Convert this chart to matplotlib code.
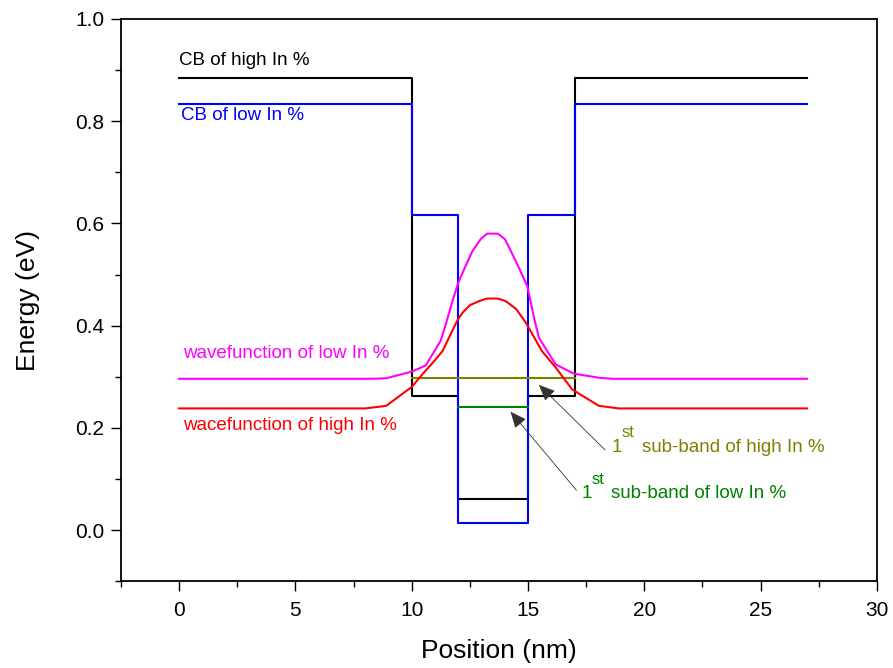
import matplotlib
matplotlib.use("Agg")
import matplotlib.pyplot as plt
from matplotlib.ticker import MultipleLocator, FormatStrFormatter
from matplotlib.transforms import offset_copy

plt.rcParams["font.family"] = ["Liberation Sans", "DejaVu Sans"]

# conduction band profiles (step potentials)
cb_high_x = [0, 10, 10, 12, 12, 15, 15, 17, 17, 27]
cb_high_y = [0.884, 0.884, 0.262, 0.262, 0.060, 0.060, 0.262, 0.262, 0.884, 0.884]
cb_low_x = [0, 10, 10, 12, 12, 15, 15, 17, 17, 27]
cb_low_y = [0.834, 0.834, 0.616, 0.616, 0.013, 0.013, 0.616, 0.616, 0.834, 0.834]

# wavefunctions (offset by sub-band energy)
wf_low_x = [0, 8.3, 8.9, 10.0, 10.6, 11.24, 11.46, 11.75, 12.0, 12.25, 12.6, 12.96,
            13.24, 13.7, 14.01, 14.54, 14.97, 15.26, 15.47, 16.19, 16.97, 18.05, 18.6, 27]
wf_low_y = [0.296, 0.296, 0.297, 0.310, 0.322, 0.370, 0.402, 0.448, 0.484, 0.510, 0.545, 0.569,
            0.580, 0.580, 0.569, 0.520, 0.477, 0.415, 0.376, 0.324, 0.306, 0.298, 0.296, 0.296]
wf_high_x = [0, 8.0, 8.9, 10.0, 10.46, 11.03, 11.32, 11.67, 11.98, 12.18, 12.5, 12.9,
             13.24, 13.7, 14.04, 14.5, 14.9, 15.6, 16.19, 16.9, 18.05, 18.9, 27]
wf_high_y = [0.238, 0.238, 0.243, 0.280, 0.305, 0.334, 0.350, 0.383, 0.412, 0.425, 0.440, 0.448,
             0.453, 0.453, 0.448, 0.432, 0.406, 0.350, 0.318, 0.275, 0.243, 0.238, 0.238]

# first sub-band levels
sb_high_x = [10, 17]
sb_high_y = [0.297, 0.297]
sb_low_x = [12, 15]
sb_low_y = [0.240, 0.240]

fig = plt.figure(figsize=(8.93, 6.68), dpi=100)
ax = fig.add_axes([0.1355, 0.130, 0.8465, 0.8416])

ax.plot(cb_high_x, cb_high_y, color="black", lw=1.5)
ax.plot(cb_low_x, cb_low_y, color="#0000ff", lw=1.5)
ax.plot(sb_high_x, sb_high_y, color="#808000", lw=1.5)
ax.plot(sb_low_x, sb_low_y, color="#008000", lw=1.5)
ax.plot(wf_low_x, wf_low_y, color="#ff00ff", lw=1.5)
ax.plot(wf_high_x, wf_high_y, color="#ff0000", lw=1.5)

fs = 13.5
ax.text(0.0, 0.910, "CB of high In %", color="black", fontsize=fs, va="baseline")
ax.text(0.07, 0.802, "CB of low In %", color="#0000ff", fontsize=fs, va="baseline")
ax.text(0.16, 0.336, "wavefunction of low In %", color="#ff00ff", fontsize=fs, va="baseline")
ax.text(0.16, 0.196, "wacefunction of high In %", color="#ff0000", fontsize=fs, va="baseline")


def ordinal_label(x, y, rest, color, raise_pt):
    ax.text(x, y, "1", color=color, fontsize=fs, va="baseline")
    tr = offset_copy(ax.transData, fig=fig, x=7.0, y=raise_pt, units="points")
    ax.text(x, y, "st", color=color, fontsize=12, va="baseline", transform=tr)
    tr = offset_copy(ax.transData, fig=fig, x=21.5, y=0, units="points")
    ax.text(x, y, rest, color=color, fontsize=fs, va="baseline", transform=tr)


ordinal_label(18.6, 0.152, "sub-band of high In %", "#808000", 11)
ordinal_label(17.3, 0.062, "sub-band of low In %", "#008000", 10)

arrow = dict(arrowstyle="-|>,head_length=0.5,head_width=0.22", mutation_scale=20,
             color="#333333", lw=0.6, shrinkA=0, shrinkB=0)
ax.annotate("", xy=(15.47, 0.284), xytext=(18.31, 0.157), arrowprops=arrow)
ax.annotate("", xy=(14.25, 0.2315), xytext=(17.08, 0.078), arrowprops=arrow)

ax.set_xlim(-2.5, 30)
ax.set_ylim(-0.1, 1.0)
ax.xaxis.set_major_locator(MultipleLocator(5))
ax.xaxis.set_minor_locator(MultipleLocator(2.5))
ax.yaxis.set_major_locator(MultipleLocator(0.2))
ax.yaxis.set_minor_locator(MultipleLocator(0.1))
ax.yaxis.set_major_formatter(FormatStrFormatter("%.1f"))
ax.tick_params(which="both", direction="out", top=False, right=False, width=1.0,
               labelsize=15)
ax.tick_params(which="major", length=7)
ax.tick_params(which="minor", length=4)
ax.tick_params(axis="x", pad=7)
ax.tick_params(axis="y", pad=5)
for s in ax.spines.values():
    s.set_linewidth(1.3)

ax.set_xlabel("Position (nm)", fontsize=19, labelpad=14)
ax.set_ylabel("Energy (eV)", fontsize=19, labelpad=25)

fig.savefig("out.png", dpi=100)
